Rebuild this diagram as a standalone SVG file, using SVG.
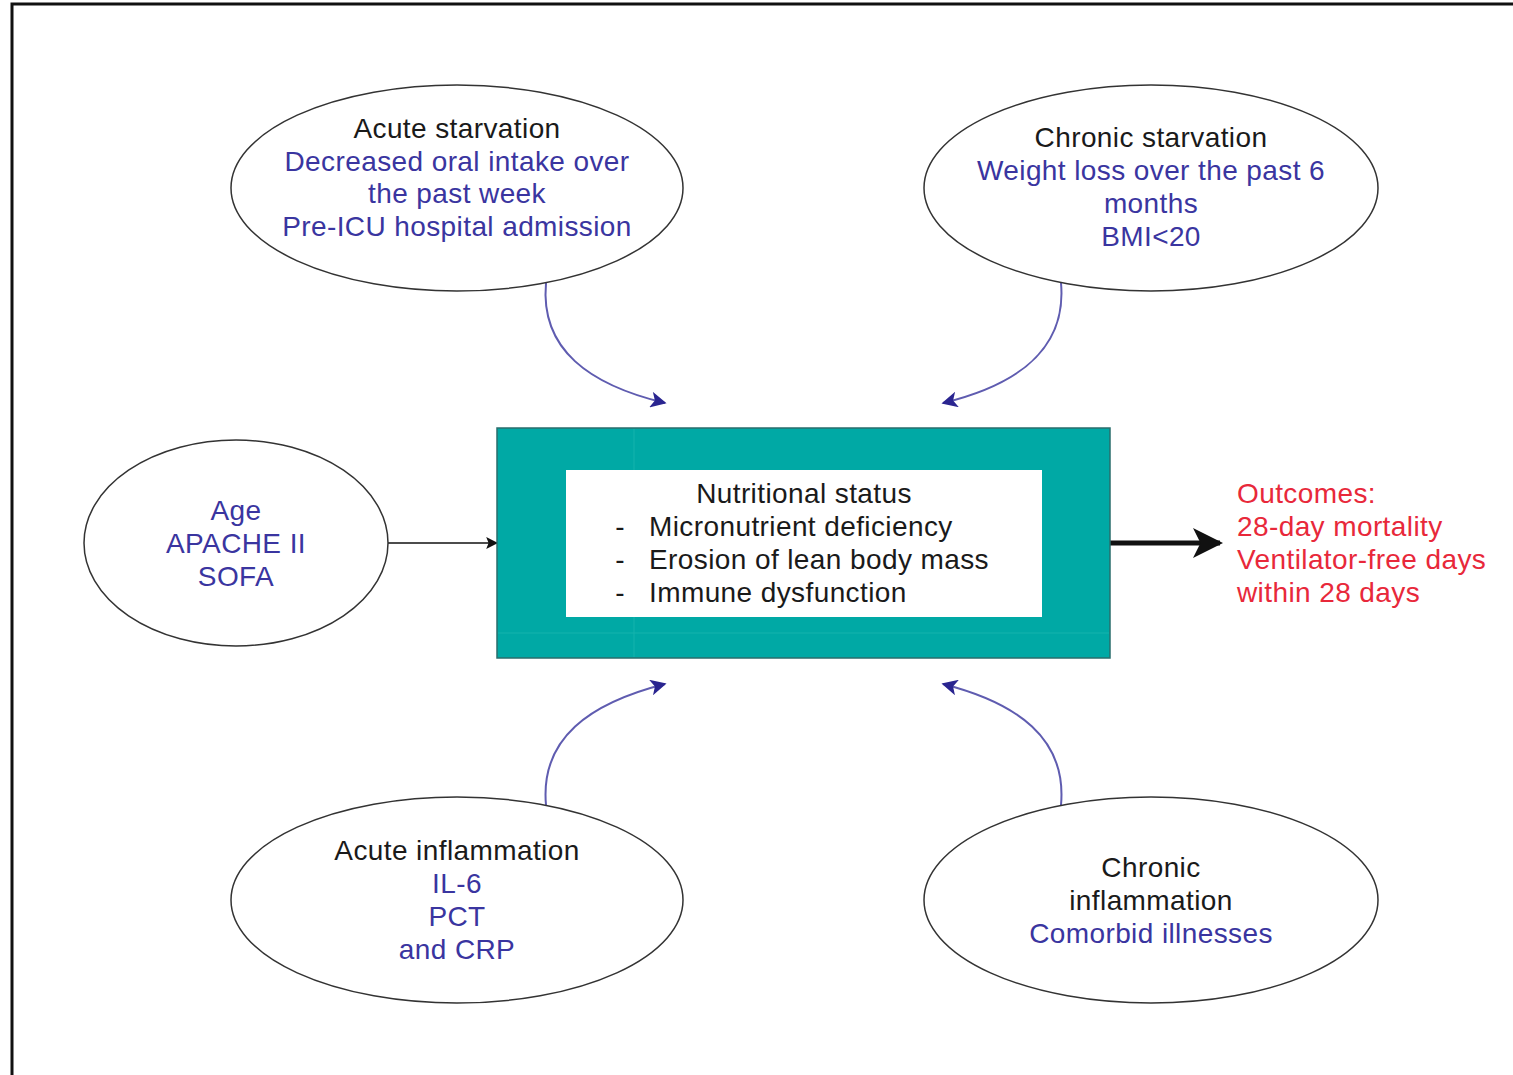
<svg xmlns="http://www.w3.org/2000/svg" width="1513" height="1075" viewBox="0 0 1513 1075">
<style>
.t{font-family:"Liberation Sans",Arial,sans-serif;font-size:28px;letter-spacing:0.4px;text-anchor:middle}
.k{fill:#1a1a1a}
.b{fill:#3a35a0}
.r{fill:#e8283a}
.el{fill:#fff;stroke:#333;stroke-width:1.5}
.cv{fill:none;stroke:#5f5cb0;stroke-width:2}
</style>
<defs>
<marker id="ab" viewBox="0 0 10 10" refX="9" refY="5" markerWidth="20" markerHeight="16" markerUnits="userSpaceOnUse" orient="auto"><path d="M0,0 L10,5 L0,10 L2.5,5 Z" fill="#2a2590"/></marker>
<marker id="ak" viewBox="0 0 10 10" refX="9" refY="5" markerWidth="12" markerHeight="12" markerUnits="userSpaceOnUse" orient="auto"><path d="M0,0 L10,5 L0,10 L2,5 Z" fill="#111"/></marker>
<marker id="ak2" viewBox="0 0 10 10" refX="9" refY="5" markerWidth="36" markerHeight="30" markerUnits="userSpaceOnUse" orient="auto"><path d="M0,0 L10,5 L0,10 L2.5,5 Z" fill="#111"/></marker>
</defs>
<rect x="0" y="0" width="1513" height="1075" fill="#fff"/>
<rect x="12" y="4" width="1510" height="1090" fill="none" stroke="#111" stroke-width="3"/>

<g id="connectors">
<path class="cv" d="M546,283 C540,350 590,385 665,403" marker-end="url(#ab)"/>
<path class="cv" d="M1061,283 C1067,350 1017,385 943,403" marker-end="url(#ab)"/>
<path class="cv" d="M546,805 C540,738 590,703 665,684" marker-end="url(#ab)"/>
<path class="cv" d="M1061,805 C1067,738 1017,703 943,684" marker-end="url(#ab)"/>
<line x1="388" y1="543" x2="497" y2="543" stroke="#111" stroke-width="1.5" marker-end="url(#ak)"/>
<line x1="1110" y1="543" x2="1220" y2="543" stroke="#111" stroke-width="5" marker-end="url(#ak2)"/>
</g>

<g id="acute-starvation">
<ellipse class="el" cx="457" cy="188" rx="226" ry="103"/>
<text class="t k" x="457" y="138">Acute starvation</text>
<text class="t b" x="457" y="171">Decreased oral intake over</text>
<text class="t b" x="457" y="203">the past week</text>
<text class="t b" x="457" y="236">Pre-ICU hospital admission</text>
</g>

<g id="chronic-starvation">
<ellipse class="el" cx="1151" cy="188" rx="227" ry="103"/>
<text class="t k" x="1151" y="147">Chronic starvation</text>
<text class="t b" x="1151" y="180">Weight loss over the past 6</text>
<text class="t b" x="1151" y="213">months</text>
<text class="t b" x="1151" y="246">BMI&lt;20</text>
</g>

<g id="severity">
<ellipse class="el" cx="236" cy="543" rx="152" ry="103"/>
<text class="t b" x="236" y="520">Age</text>
<text class="t b" x="236" y="553">APACHE II</text>
<text class="t b" x="236" y="586">SOFA</text>
</g>

<g id="nutritional-status">
<rect x="497" y="428" width="613" height="230" fill="#00a9a5" stroke="#2a6e6c" stroke-width="1.5"/>
<line x1="634" y1="429" x2="634" y2="657" stroke="#14b3ad" stroke-width="1"/>
<line x1="498" y1="633" x2="1109" y2="633" stroke="#14b3ad" stroke-width="1"/>
<rect x="566" y="470" width="476" height="147" fill="#fff"/>
<text class="t k" x="804" y="503">Nutritional status</text>
<text class="t k" x="620" y="536">-</text>
<text class="t k" x="620" y="569">-</text>
<text class="t k" x="620" y="602">-</text>
<text class="t k" x="649" y="536" style="text-anchor:start">Micronutrient deficiency</text>
<text class="t k" x="649" y="569" style="text-anchor:start">Erosion of lean body mass</text>
<text class="t k" x="649" y="602" style="text-anchor:start">Immune dysfunction</text>
</g>

<g id="outcomes">
<text class="t r" x="1237" y="503" style="text-anchor:start">Outcomes:</text>
<text class="t r" x="1237" y="536" style="text-anchor:start">28-day mortality</text>
<text class="t r" x="1237" y="569" style="text-anchor:start">Ventilator-free days</text>
<text class="t r" x="1237" y="602" style="text-anchor:start">within 28 days</text>
</g>

<g id="acute-inflammation">
<ellipse class="el" cx="457" cy="900" rx="226" ry="103"/>
<text class="t k" x="457" y="860">Acute inflammation</text>
<text class="t b" x="457" y="893">IL-6</text>
<text class="t b" x="457" y="926">PCT</text>
<text class="t b" x="457" y="959">and CRP</text>
</g>

<g id="chronic-inflammation">
<ellipse class="el" cx="1151" cy="900" rx="227" ry="103"/>
<text class="t k" x="1151" y="877">Chronic</text>
<text class="t k" x="1151" y="910">inflammation</text>
<text class="t b" x="1151" y="943">Comorbid illnesses</text>
</g>
</svg>
